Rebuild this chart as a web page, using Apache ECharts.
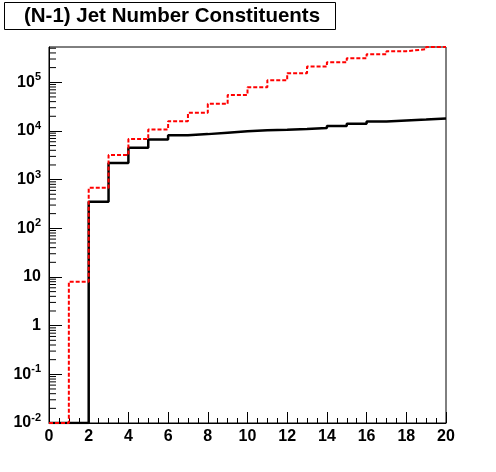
<!DOCTYPE html>
<html>
<head>
<meta charset="utf-8">
<script src="https://cdn.jsdelivr.net/npm/echarts@6/dist/echarts.min.js"></script>
<style>
  html, body { margin: 0; padding: 0; background: #fff; }
  #chart { width: 496px; height: 472px; }
</style>
</head>
<body>
<div id="chart"></div>
<script>
// bin edges of the histogram (bin width 1)
const binEdges = [0, 1, 2, 3, 4, 5, 6, 7, 8, 9, 10, 11, 12, 13, 14, 15, 16, 17, 18, 19, 20];

// bin contents
const blackCounts = [0, 0, 350, 2200, 4500, 6700, 8200, 8600, 9200, 9800,
    10300, 10600, 11000, 11500, 12700, 14000, 15600, 16400, 17200, 18100];
const redCounts = [0, 8, 680, 3200, 6800, 10700, 15900, 23500, 36000, 55000,
    79000, 110000, 154000, 210000, 258000, 310000, 377000, 435000, 478000, 530000];

const yMin = 0.01;
const yMax = 5.3e5;
const decades = [-2, -1, 0, 1, 2, 3, 4, 5];
const minorMultipliers = [2, 3, 4, 5, 6, 7, 8, 9];

const fontFamily = "'Liberation Sans', Arial, Helvetica, sans-serif";

// histogram -> step line points, empty bins drawn on the bottom of the frame
function histPoints(counts) {
    return binEdges.map((edge, i) => {
        const v = counts[Math.min(i, counts.length - 1)];
        return [edge, v > 0 ? v : yMin];
    });
}

const minorTicks = [];
decades.forEach((d) => {
    minorMultipliers.forEach((m) => {
        const v = m * Math.pow(10, d);
        if (v > yMin && v < yMax) minorTicks.push([0, v]);
    });
});

const chart = echarts.init(document.getElementById("chart"));

const options = {
    animation: false,
    backgroundColor: "#fff",
    graphic: [
        {
            type: "rect",
            shape: { x: 4.5, y: 2.5, width: 331, height: 27 },
            style: { fill: "#fff", stroke: "#000", lineWidth: 1 },
        },
        {
            type: "text",
            x: 172,
            y: 16.5,
            style: {
                text: "(N-1) Jet Number Constituents",
                font: "bold 20.5px " + fontFamily,
                fill: "#000",
                align: "center",
                verticalAlign: "middle",
            },
        },
    ],
    grid: {
        left: 49,
        right: 50,
        top: 47,
        bottom: 49,
        show: true,
        borderColor: "#000",
        borderWidth: 1,
        backgroundColor: "transparent",
    },
    xAxis: {
        type: "value",
        min: 0,
        max: 20,
        interval: 2,
        axisLine: { lineStyle: { color: "#000", width: 1 } },
        axisTick: { inside: true, length: 11, lineStyle: { color: "#000" } },
        minorTick: { show: true, splitNumber: 4, length: 5, lineStyle: { color: "#000" } },
        splitLine: { show: false },
        axisLabel: {
            color: "#000",
            fontFamily: fontFamily,
            fontWeight: "bold",
            fontSize: 16,
            margin: 6,
        },
    },
    yAxis: {
        type: "log",
        logBase: 10,
        min: yMin,
        max: yMax,
        interval: 1,
        axisLine: { lineStyle: { color: "#000", width: 1 } },
        axisTick: { inside: true, length: 13, lineStyle: { color: "#000" } },
        splitLine: { show: false },
        axisLabel: {
            showMaxLabel: false,
            margin: 8,
            color: "#000",
            formatter: (value) => {
                const e = Math.round(Math.log10(value));
                if (e === 0) return "{b|1}";
                if (e === 1) return "{b|10}";
                return "{b|10}{s|" + e + "}";
            },
            rich: {
                b: { fontFamily: fontFamily, fontWeight: "bold", fontSize: 16, color: "#000" },
                s: { fontFamily: fontFamily, fontWeight: "bold", fontSize: 11, color: "#000", padding: [0, 0, 10, 0] },
            },
        },
    },
    series: [
        {
            name: "minor ticks",
            type: "custom",
            silent: true,
            data: minorTicks,
            renderItem: (params, api) => {
                const p = api.coord([0, api.value(1)]);
                return {
                    type: "line",
                    shape: { x1: p[0], y1: p[1], x2: p[0] + 7, y2: p[1] },
                    style: { stroke: "#000", lineWidth: 1 },
                };
            },
            z: 1,
        },
        {
            name: "black",
            type: "line",
            step: "end",
            data: histPoints(blackCounts),
            symbol: "none",
            lineStyle: { color: "#000", width: 2.5 },
            z: 2,
        },
        {
            name: "red",
            type: "line",
            step: "end",
            data: histPoints(redCounts),
            symbol: "none",
            lineStyle: { color: "#ff0000", width: 2, type: [4, 2] },
            z: 3,
        },
    ],
};

chart.setOption(options);
</script>
</body>
</html>
